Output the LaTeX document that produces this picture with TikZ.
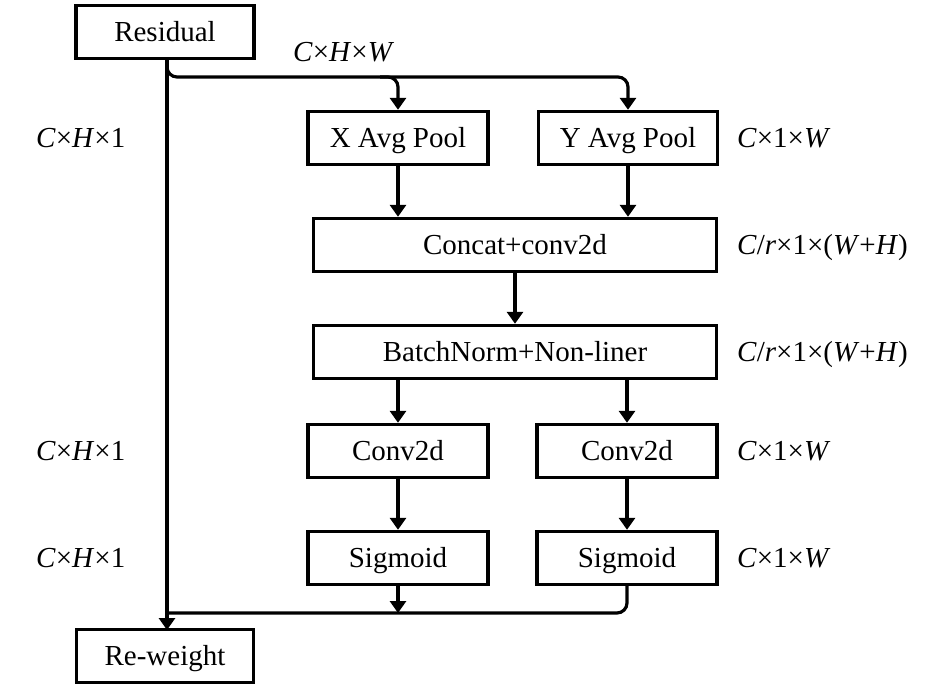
\documentclass[tikz,border=0pt]{standalone}
\usepackage{fontspec}
\setmainfont{Liberation Serif}
\usetikzlibrary{arrows.meta}
\begin{document}
\begin{tikzpicture}[x=1pt,y=1pt,
  box/.style={draw,line width=3.4pt,minimum height=53pt,inner sep=0pt,text height=19pt,text depth=0pt,font=\fontsize{29}{32}\selectfont},
  lbl/.style={anchor=west,inner sep=0pt,text height=19pt,text depth=0pt,font=\fontsize{29}{32}\selectfont},
  conn/.style={line width=3.2pt},
  arr/.style={conn,-{Triangle[width=16pt,length=12pt]}},
  round/.style={rounded corners=10pt}]
\useasboundingbox (0,0) rectangle (945,-688);
\node[box,minimum width=178pt] (res) at (165,-32) {Residual};
\node[box,minimum width=180pt] (xpool) at (398,-138) {X Avg Pool};
\node[box,minimum width=179pt] (ypool) at (628,-138) {Y Avg Pool};
\node[box,minimum width=403pt] (cat) at (515,-245) {Concat+conv2d};
\node[box,minimum width=403pt] (bn) at (515,-352) {BatchNorm+Non-liner};
\node[box,minimum width=180pt] (conva) at (398,-451) {Conv2d};
\node[box,minimum width=180pt] (convb) at (627,-451) {Conv2d};
\node[box,minimum width=180pt] (siga) at (398,-558) {Sigmoid};
\node[box,minimum width=180pt] (sigb) at (627,-558) {Sigmoid};
\node[box,minimum width=177pt] (rw) at (165,-656) {Re-weight};
% labels
\node[lbl] (l0) at (293,-52) {\textit{C}×\textit{H}×\textit{W}};
\node[lbl] (l1) at (36,-138) {\textit{C}×\textit{H}×1};
\node[lbl] (l2) at (36,-451) {\textit{C}×\textit{H}×1};
\node[lbl] (l3) at (36,-558) {\textit{C}×\textit{H}×1};
\node[lbl] (r1) at (737,-138) {\textit{C}×1×\textit{W}};
\node[lbl] (r2) at (737,-245) {\textit{C}/\textit{r}×1×(\textit{W}+\textit{H})};
\node[lbl] (r3) at (737,-352) {\textit{C}/\textit{r}×1×(\textit{W}+\textit{H})};
\node[lbl] (r4) at (737,-451) {\textit{C}×1×\textit{W}};
\node[lbl] (r5) at (737,-558) {\textit{C}×1×\textit{W}};
% coordinates
\coordinate (top) at (167,-58);
\coordinate (bot) at (167,-630);
\coordinate (split) at (380,-77);
\coordinate (merge) at (167,-613);
% main path
\draw[arr] (top) -- (bot);
\draw[arr,round] ([yshift=-4pt]top) |- (ypool.north |- split) -- (ypool.north);
\draw[arr,round] (split) -| (xpool.north);
\draw[arr] (xpool.south) -- (xpool.south |- cat.north);
\draw[arr] (ypool.south) -- (ypool.south |- cat.north);
\draw[arr] (cat) ++(0,-27) -- (bn.north);
\draw[arr] (conva.north |- bn.south) -- (conva.north);
\draw[arr] (convb.north |- bn.south) -- (convb.north);
\draw[arr] (conva.south) -- (siga.north);
\draw[arr] (convb.south) -- (sigb.north);
\draw[arr] (siga.south) -- (siga.south |- merge);
\draw[conn,round] (sigb.south) |- (merge);
\end{tikzpicture}
\end{document}
